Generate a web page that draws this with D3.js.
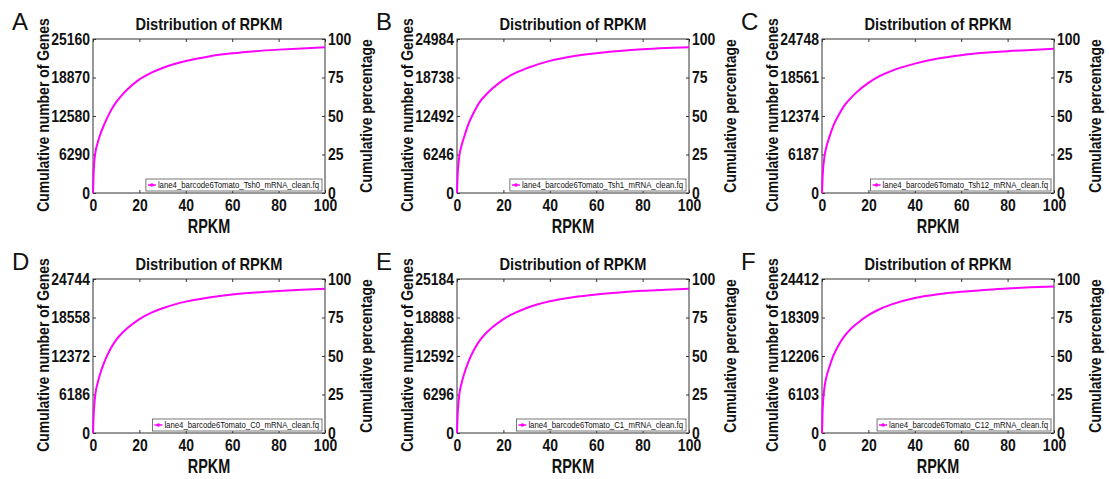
<!DOCTYPE html>
<html>
<head>
<meta charset="utf-8">
<script src="https://cdn.jsdelivr.net/npm/d3@7"></script>
<style>
  body { margin: 0; background: #fff; }
  svg text { fill: #111; }
</style>
</head>
<body>
<svg id="chart" width="1109" height="479"></svg>
<script>
// RPKM sample points (x) shared by every panel
const rpkm = [0, 0.25, 0.5, 1, 2, 3, 5, 7.5, 10, 12, 15, 20, 25, 30, 40, 50, 60, 70, 80, 90, 100];

// cumulative percentage per sample
const pctTsh0  = [0, 12, 19, 26, 32.5, 37.5, 45, 53, 59, 62.8, 67.5, 73.8, 78, 81.2, 85.7, 88.7, 90.7, 92.1, 93.1, 93.9, 94.6];
const pctTsh1  = [0, 11, 17, 24, 31, 36, 45, 53, 59.5, 63, 67.5, 73.5, 77.8, 81, 85.8, 88.8, 90.8, 92.2, 93.3, 94.1, 94.7];
const pctTsh12 = [0, 10, 16, 23, 30.5, 35.5, 44, 51.5, 57.5, 61, 65.5, 71.5, 76, 79.3, 84, 87.3, 89.5, 91, 92.1, 92.9, 93.6];
const pctC0    = [0, 11, 17, 25, 32.5, 38, 46.5, 54.5, 60.5, 64, 68.3, 74, 78, 81, 85.3, 88, 89.9, 91.2, 92.2, 93, 93.6];
const pctC1    = [0, 11, 17, 25, 32.5, 38, 46.5, 54.5, 60.5, 64, 68.3, 74, 78, 81.2, 85.6, 88.2, 90, 91.3, 92.3, 93, 93.6];
const pctC12   = [0, 14, 21, 29, 37, 42, 50.5, 58, 63.5, 67, 71, 76.5, 80.5, 83.5, 87.7, 90.1, 91.7, 92.9, 93.8, 94.6, 95.2];

const letters  = ["A", "B", "C", "D", "E", "F"];
const samples  = ["Tsh0", "Tsh1", "Tsh12", "C0", "C1", "C12"];
const geneMax  = [25160, 24984, 24748, 24744, 25184, 24412];
const series   = [pctTsh0, pctTsh1, pctTsh12, pctC0, pctC1, pctC12];
const xTicks   = [0, 20, 40, 60, 80, 100];
const pctTicks = [0, 25, 50, 75, 100];

const chart = d3.select("#chart");
const font = "'Liberation Sans', Arial, sans-serif";

// squeeze text horizontally to mimic a narrow bold face
function condense(sel, f) {
    sel.each(function() {
        let w = this.getComputedTextLength();
        d3.select(this).attr("textLength", w * f).attr("lengthAdjust", "spacingAndGlyphs");
    });
}

const colLeft = [93, 457, 822];
const rowTop  = [39, 279];
const pw = 232, ph = 154;

samples.forEach(function(s, i) {
    let left = colLeft[i % 3], top = rowTop[Math.floor(i / 3)];
    let g = chart.append("g").attr("transform", "translate(" + left + "," + top + ")");

    let x = d3.scaleLinear().domain([0, 100]).range([0, pw]);
    let yPct = d3.scaleLinear().domain([0, 100]).range([ph, 0]);
    let yGenes = d3.scaleLinear().domain([0, geneMax[i]]).range([ph, 0]);

    // axes, ticks pointing inward
    let xAxis = d3.axisBottom(x).tickValues(xTicks).tickSizeInner(-3).tickSizeOuter(0).tickPadding(6);
    let xTop = d3.axisTop(x).tickValues(xTicks).tickSizeInner(-3).tickSizeOuter(0).tickFormat("");
    let yLeft = d3.axisLeft(yGenes).tickValues(d3.range(5).map(k => geneMax[i] * k / 4))
        .tickFormat(d3.format("d")).tickSizeInner(-3).tickSizeOuter(0).tickPadding(3);
    let yRight = d3.axisRight(yPct).tickValues(pctTicks).tickSizeInner(-3).tickSizeOuter(0).tickPadding(3);

    g.append("g").attr("transform", "translate(0," + ph + ")").call(xAxis);
    g.append("g").call(xTop);
    g.append("g").call(yLeft);
    g.append("g").attr("transform", "translate(" + pw + ",0)").call(yRight);

    g.selectAll(".domain").remove();
    g.selectAll(".tick line").attr("stroke", "#333");
    g.selectAll(".tick text")
        .style("font-family", font)
        .style("font-size", "17px")
        .style("font-weight", "bold")
        .attr("fill", "#111")
        .call(condense, 0.82);

    g.append("rect")
        .attr("width", pw).attr("height", ph)
        .attr("fill", "none").attr("stroke", "#333").attr("stroke-width", 1);

    // curve
    let pts = rpkm.map((r, k) => [r, series[i][k]]);
    let line = d3.line().x(d => x(d[0])).y(d => yPct(d[1])).curve(d3.curveMonotoneX);
    g.append("path")
        .datum(pts)
        .attr("d", line)
        .attr("fill", "none")
        .attr("stroke", "#ff00ff")
        .attr("stroke-width", 2);

    // legend
    let lg = g.append("g");
    let lt = lg.append("text")
        .text("lane4_barcode6Tomato_" + s + "_mRNA_clean.fq")
        .attr("y", 0)
        .style("font-family", font)
        .style("font-size", "9.5px")
        .call(condense, 0.82);
    let tw = +lt.attr("textLength");
    let bw = tw + 15, bh = 12;
    let bx = pw - 3 - bw, by = ph - 2 - bh;
    lg.insert("rect", "text")
        .attr("x", bx).attr("y", by).attr("width", bw).attr("height", bh)
        .attr("fill", "#fff").attr("stroke", "#555").attr("stroke-width", 0.8);
    lt.attr("x", bx + 12).attr("y", by + 9);
    lg.append("line")
        .attr("x1", bx + 2).attr("x2", bx + 10).attr("y1", by + 6).attr("y2", by + 6)
        .attr("stroke", "#ff00ff").attr("stroke-width", 1.5);
    lg.append("circle")
        .attr("cx", bx + 6).attr("cy", by + 6).attr("r", 1.8).attr("fill", "#ff00ff");

    // titles
    g.append("text")
        .text("Distribution of RPKM")
        .attr("x", pw / 2).attr("y", -9)
        .style("text-anchor", "middle")
        .style("font-family", font).style("font-size", "17px").style("font-weight", "bold")
        .call(condense, 0.86);

    g.append("text")
        .text("RPKM")
        .attr("x", pw / 2).attr("y", ph + 40)
        .style("text-anchor", "middle")
        .style("font-family", font).style("font-size", "19.5px").style("font-weight", "bold")
        .call(condense, 0.74);

    g.append("text")
        .text("Cumulative number of Genes")
        .attr("transform", "translate(-44," + (ph / 2 - 1) + ") rotate(-90)")
        .style("text-anchor", "middle")
        .style("font-family", font).style("font-size", "17px").style("font-weight", "bold")
        .call(condense, 0.82);

    g.append("text")
        .text("Cumulative percentage")
        .attr("transform", "translate(" + (pw + 47) + "," + (ph / 2) + ") rotate(-90)")
        .style("text-anchor", "middle")
        .style("font-family", font).style("font-size", "17px").style("font-weight", "bold")
        .call(condense, 0.82);

    g.append("text")
        .text(letters[i])
        .attr("x", -81).attr("y", -9)
        .style("font-family", font).style("font-size", "24px");
});
</script>
</body>
</html>
